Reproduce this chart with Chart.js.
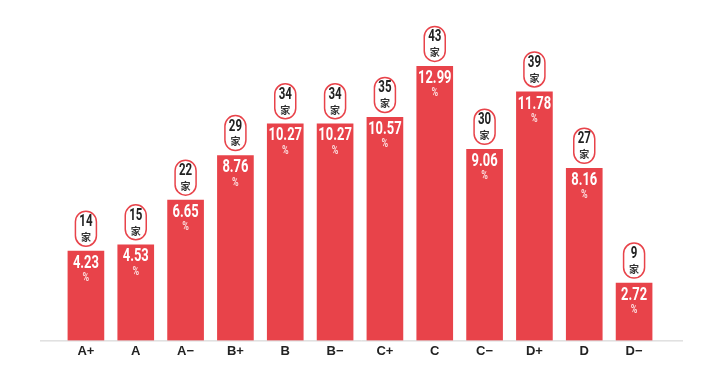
<!DOCTYPE html>
<html>
<head>
<meta charset="utf-8">
<script src="https://cdn.jsdelivr.net/npm/chart.js@4.4.1/dist/chart.umd.min.js"></script>
<style>
  html, body { margin: 0; padding: 0; background: #fff; }
  #wrap { width: 702px; height: 369px; }
</style>
</head>
<body>
<div id="wrap"><canvas id="gradeChart"></canvas></div>
<script>
// grades on the x axis
const grades = ['A+', 'A', 'A−', 'B+', 'B', 'B−', 'C+', 'C', 'C−', 'D+', 'D', 'D−'];
// share of companies, %
const shares = [4.23, 4.53, 6.65, 8.76, 10.27, 10.27, 10.57, 12.99, 9.06, 11.78, 8.16, 2.72];
// number of companies (家)
const counts = [14, 15, 22, 29, 34, 34, 35, 43, 30, 39, 27, 9];

const RED = '#e8434a';
const CJK = "'Noto Sans CJK SC', sans-serif";

// long light axis line under the bars
const baseLine = {
    id: 'baseLine',
    beforeDatasetsDraw(chart) {
        const c = chart.ctx;
        const y = chart.chartArea.bottom + 0.5;
        c.save();
        c.strokeStyle = '#cfcfcf';
        c.lineWidth = 1;
        c.beginPath();
        c.moveTo(40, y);
        c.lineTo(683, y);
        c.stroke();
        c.restore();
    }
};

function pill(c, x, y, w, h) {
    const r = w / 2;
    c.beginPath();
    c.moveTo(x - r, y + r);
    c.arc(x, y + r, r, Math.PI, 0);
    c.lineTo(x + r, y + h - r);
    c.arc(x, y + h - r, r, 0, Math.PI);
    c.closePath();
}

// no narrow font installed, so squeeze Roboto sideways
function narrowText(c, txt, x, y, size, sx) {
    c.save();
    c.translate(x, y);
    c.scale(sx, 1);
    c.font = 'bold ' + size + 'px Roboto, sans-serif';
    c.fillText(txt, 0, 0);
    c.restore();
}

// value inside the bar, count pill above it
const barLabels = {
    id: 'barLabels',
    afterDatasetsDraw(chart) {
        const c = chart.ctx;
        const meta = chart.getDatasetMeta(0);
        c.save();
        c.textAlign = 'center';
        c.textBaseline = 'middle';
        meta.data.forEach((bar, i) => {
            const x = bar.x, top = bar.y;

            c.fillStyle = '#fff';
            narrowText(c, shares[i].toFixed(2), x, top + 12, 18.5, 0.7);
            c.fillStyle = 'rgba(255,255,255,0.8)';
            narrowText(c, '%', x, top + 27, 12, 0.75);

            const pw = 21, ph = 35;
            const pTop = top - 5 - ph;
            pill(c, x, pTop, pw, ph);
            c.fillStyle = '#fff';
            c.fill();
            c.strokeStyle = RED;
            c.lineWidth = 1.5;
            c.stroke();

            c.fillStyle = '#222';
            narrowText(c, String(counts[i]), x, pTop + 11, 16, 0.72);
            c.fillStyle = '#333';
            c.font = 'bold 10px ' + CJK;
            c.fillText('家', x, pTop + 26);
        });
        c.restore();
    }
};

const ctx = document.getElementById('gradeChart').getContext('2d');
const gradeChart = new Chart(ctx, {
    type: 'bar',
    data: {
        labels: grades,
        datasets: [{
            label: '占比',
            data: shares,
            backgroundColor: RED,
            barThickness: 36,
            borderWidth: 0
        }]
    },
    options: {
        responsive: true,
        maintainAspectRatio: false,
        animation: false,
        layout: {
            padding: { top: 24, left: 61, right: 43, bottom: 7 }
        },
        scales: {
            x: {
                grid: { display: false, drawTicks: false },
                border: { display: false },
                ticks: {
                    color: '#222',
                    padding: 3,
                    font: { family: 'Arial, Liberation Sans, sans-serif', size: 13, weight: 'bold' }
                }
            },
            y: {
                display: false,
                min: 0,
                max: 15
            }
        },
        plugins: {
            legend: { display: false },
            tooltip: { enabled: false }
        }
    },
    plugins: [baseLine, barLabels]
});
</script>
</body>
</html>
